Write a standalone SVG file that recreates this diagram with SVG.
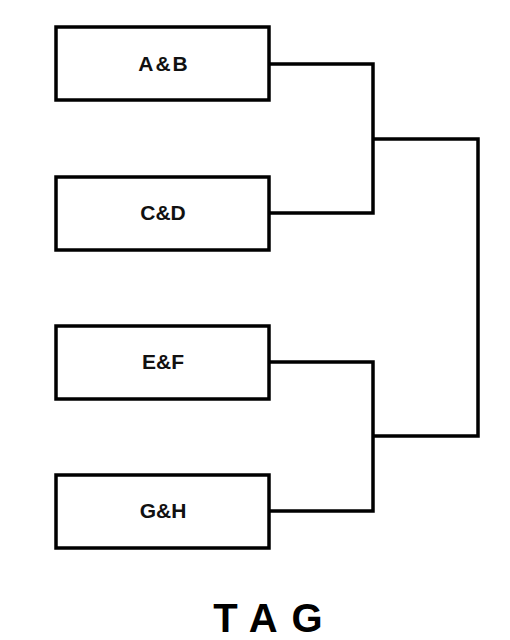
<svg xmlns="http://www.w3.org/2000/svg" width="510" height="640" viewBox="0 0 510 640">
<style>
.box{fill:#fff;stroke:#000;stroke-width:3.5}
.lbl{font-family:"Liberation Sans",Arial,sans-serif;font-weight:bold;font-size:21px;fill:#111;text-anchor:middle}
.ln{fill:none;stroke:#000;stroke-width:3.5}
</style>
<rect width="510" height="640" fill="#fff"/>
<g id="connectors">
<path class="ln" d="M269 64H373V213H269"/>
<path class="ln" d="M373 139H478V436H373"/>
<path class="ln" d="M269 362H373V511H269"/>
</g>
<g id="ab"><rect class="box" x="56" y="27" width="213" height="73"/><text class="lbl" x="164" y="71" letter-spacing="2">A&amp;B</text></g>
<g id="cd"><rect class="box" x="56" y="177" width="213" height="73"/><text class="lbl" x="163" y="220">C&amp;D</text></g>
<g id="ef"><rect class="box" x="56" y="326" width="213" height="73"/><text class="lbl" x="163" y="369">E&amp;F</text></g>
<g id="gh"><rect class="box" x="56" y="475" width="213" height="73"/><text class="lbl" x="163" y="518">G&amp;H</text></g>
<text x="275" y="632" font-family="'Liberation Sans',Arial,sans-serif" font-weight="bold" font-size="40" letter-spacing="14" text-anchor="middle" fill="#000">TAG</text>
</svg>
